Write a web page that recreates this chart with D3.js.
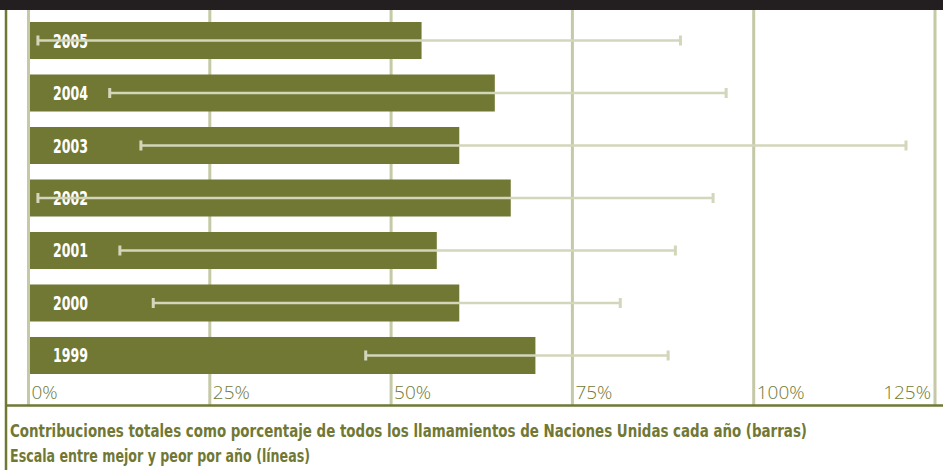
<!DOCTYPE html>
<meta charset="utf-8">
<script src="https://d3js.org/d3.v7.min.js"></script>
<style>
body { margin: 0; background: #fff; }
.tick-label { font-family: "Open Sans", sans-serif; font-weight: 300; font-size: 19px; fill: #717834; }
.year { font-family: "Liberation Sans Narrow", "DejaVu Sans Condensed", "DejaVu Sans", sans-serif; font-weight: bold; font-size: 19px; fill: #fff; }
.caption { font-family: "Liberation Sans Narrow", "DejaVu Sans Condensed", "DejaVu Sans", sans-serif; font-weight: bold; font-size: 18px; fill: #717834; }
</style>
<body>
<script>
// data
var years = ["2005", "2004", "2003", "2002", "2001", "2000", "1999"];
var totals = [54.2, 64.3, 59.4, 66.5, 56.3, 59.4, 69.9];   // bar: % of all UN appeals
var worst = [1.3, 11.2, 15.5, 1.3, 12.6, 17.2, 46.5];      // line start
var best = [89.9, 96.2, 121.0, 94.4, 89.2, 81.6, 88.2];    // line end
var ticks = [0, 25, 50, 75, 100, 125];
var captionLines = [
  "Contribuciones totales como porcentaje de todos los llamamientos de Naciones Unidas cada año (barras)",
  "Escala entre mejor y peor por año (líneas)"
];
var captionWidths = [797, 300];

var width = 943, height = 470;
var olive = "#717834", grid = "#c5c9a6", range = "#d3d6bb";

var svg = d3.select("body").append("svg")
  .attr("width", width)
  .attr("height", height);

var x = d3.scaleLinear().domain([0, 125]).range([28.5, 935]);
var y = d3.scaleBand().domain(years).range([22, 374]).paddingInner(0.295).paddingOuter(0);

// top dark strip
svg.append("rect").attr("x", 0).attr("y", 0).attr("width", width).attr("height", 10).attr("fill", "#231f20");

// gridlines
svg.append("g").selectAll("line")
  .data(ticks)
  .enter().append("line")
  .attr("x1", d => x(d)).attr("x2", d => x(d))
  .attr("y1", 10).attr("y2", 405)
  .attr("stroke", grid).attr("stroke-width", 3);

// bars
svg.append("g").selectAll("rect")
  .data(years)
  .enter().append("rect")
  .attr("x", x(0) + 1.5)
  .attr("y", d => y(d))
  .attr("width", (d, i) => x(totals[i]) - x(0) - 1.5)
  .attr("height", y.bandwidth())
  .attr("fill", olive);

// year labels
svg.append("g").selectAll("text")
  .data(years)
  .enter().append("text")
  .attr("class", "year")
  .attr("x", 53)
  .attr("y", d => y(d) + y.bandwidth() / 2 + 7)
  .attr("textLength", 35)
  .attr("lengthAdjust", "spacingAndGlyphs")
  .text(d => d);

// best/worst range lines
var rg = svg.append("g").selectAll("g")
  .data(years)
  .enter().append("g")
  .attr("transform", d => "translate(0," + (y(d) + y.bandwidth() / 2) + ")");

rg.append("line")
  .attr("x1", (d, i) => x(worst[i])).attr("x2", (d, i) => x(best[i]))
  .attr("stroke", range).attr("stroke-width", 2.5);

rg.append("rect")
  .attr("x", (d, i) => x(worst[i]) - 1.5).attr("y", -5)
  .attr("width", 3).attr("height", 10).attr("fill", range);

rg.append("rect")
  .attr("x", (d, i) => x(best[i]) - 1.5).attr("y", -5)
  .attr("width", 3).attr("height", 10).attr("fill", range);

// tick labels
svg.append("g").selectAll("text")
  .data(ticks)
  .enter().append("text")
  .attr("class", "tick-label")
  .attr("x", d => d === 125 ? x(d) - 4 : x(d) + 3)
  .attr("y", 399)
  .attr("text-anchor", d => d === 125 ? "end" : "start")
  .text(d => d + "%");

// frame lines
svg.append("line").attr("x1", 6).attr("x2", 6).attr("y1", 10).attr("y2", height)
  .attr("stroke", olive).attr("stroke-width", 2.5);
svg.append("line").attr("x1", 6).attr("x2", width).attr("y1", 405.5).attr("y2", 405.5)
  .attr("stroke", olive).attr("stroke-width", 2.5);

// caption
svg.append("g").selectAll("text")
  .data(captionLines)
  .enter().append("text")
  .attr("class", "caption")
  .attr("x", 10)
  .attr("y", (d, i) => 437 + i * 25)
  .attr("textLength", (d, i) => captionWidths[i])
  .attr("lengthAdjust", "spacingAndGlyphs")
  .text(d => d);
</script>
</body>
